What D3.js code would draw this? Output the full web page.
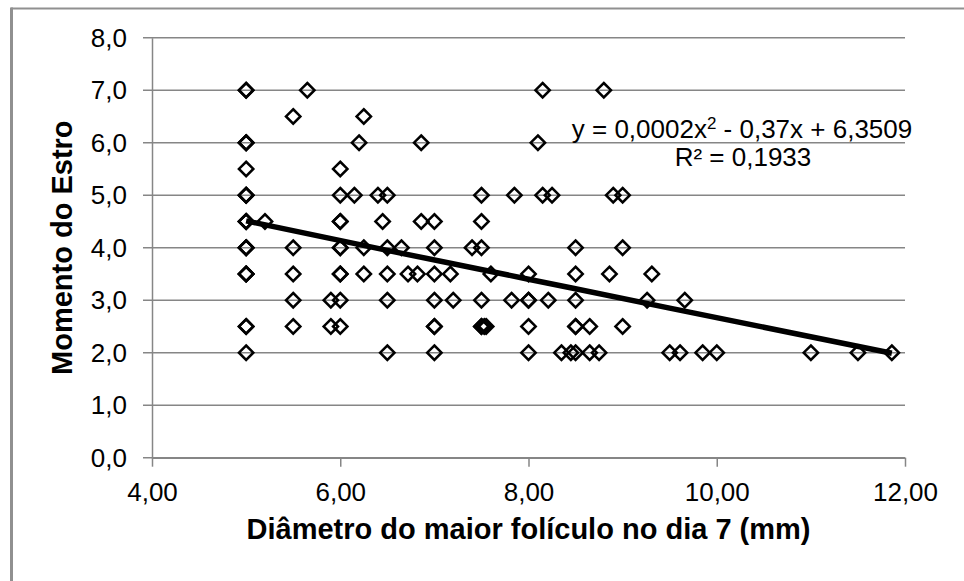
<!DOCTYPE html>
<html>
<head>
<meta charset="utf-8">
<script src="https://cdn.jsdelivr.net/npm/d3@7"></script>
<style>
  body { margin: 0; background: #fff; }
  svg { display: block; font-family: "Liberation Sans", Arial, sans-serif; }
</style>
</head>
<body>
<div id="chart"></div>
<script>
// Data: diameter (mm) and oestrus moment
const diametro = [
  5.0, 5.0, 5.0, 5.0, 5.0, 5.0, 5.0, 5.0, 5.0, 5.0, 5.0, 5.0, 5.0, 5.0, 5.0, 5.0, 5.0, 5.0, 5.0, 5.0, 5.0,
  5.2,
  5.5, 5.5, 5.5, 5.5, 5.5,
  5.65,
  5.9, 5.9,
  6.0, 6.0, 6.0, 6.0, 6.0, 6.0, 6.0, 6.0, 6.0, 6.0,
  6.15, 6.2, 6.25, 6.25, 6.25, 6.4, 6.45,
  6.5, 6.5, 6.5, 6.5, 6.5,
  6.65, 6.72, 6.82, 6.86, 6.86,
  7.0, 7.0, 7.0, 7.0, 7.0, 7.0, 7.0,
  7.17, 7.2, 7.4,
  7.5, 7.5, 7.5, 7.5, 7.5, 7.5, 7.53, 7.55, 7.6,
  7.82, 7.85,
  8.0, 8.0, 8.0, 8.0, 8.0,
  8.1, 8.15, 8.15, 8.21, 8.25, 8.35, 8.45,
  8.5, 8.5, 8.5, 8.5, 8.5, 8.5,
  8.65, 8.65, 8.75, 8.8, 8.86, 8.9,
  9.0, 9.0, 9.0,
  9.26, 9.31, 9.5, 9.61, 9.66, 9.85, 10.0, 11.0, 11.5, 11.86
];
const estro = [
  7, 7, 6, 6, 6, 5.5, 5, 5, 5, 4.5, 4.5, 4.5, 4, 4, 4, 3.5, 3.5, 3.5, 2.5, 2.5, 2,
  4.5,
  6.5, 4, 3.5, 3, 2.5,
  7,
  3, 2.5,
  5.5, 5, 4.5, 4.5, 4, 4, 3.5, 3.5, 3, 2.5,
  5, 6, 6.5, 4, 3.5, 5, 4.5,
  5, 4, 3.5, 3, 2,
  4, 3.5, 3.5, 6, 4.5,
  4.5, 4, 3.5, 3, 2.5, 2.5, 2,
  3.5, 3, 4,
  5, 4.5, 4, 3, 2.5, 2.5, 2.5, 2.5, 3.5,
  3, 5,
  3.5, 3, 3, 2.5, 2,
  6, 7, 5, 3, 5, 2, 2,
  4, 3.5, 3, 2.5, 2.5, 2,
  2.5, 2, 2, 7, 3.5, 5,
  5, 4, 2.5,
  3, 3.5, 2, 2, 3, 2, 2, 2, 2, 2
];

// Polynomial trend line
const trendX = [5.0, 6.5, 8.0, 9.5, 11.86];
const trendY = [4.51, 3.95, 3.40, 2.85, 1.99];

const xTicks = [4, 6, 8, 10, 12];
const yTicks = [0, 1, 2, 3, 4, 5, 6, 7, 8];

const eqText = "y = 0,0002x";
const eqRest = " - 0,37x + 6,3509";
const r2Text = "R² = 0,1933";
const xTitle = "Diâmetro do maior folículo no dia 7 (mm)";
const yTitle = "Momento do Estro";

const W = 964, H = 581;
const plotLeft = 152, plotRight = 905, plotTop = 37.7, plotBottom = 457.7;
const gridColor = "#868686";

const svg = d3.select("#chart").append("svg")
  .attr("width", W)
  .attr("height", H);

svg.append("rect").attr("width", W).attr("height", H).attr("fill", "#fff");

// chart frame (only top and left visible)
svg.append("line").attr("x1", 11).attr("x2", W).attr("y1", 8.5).attr("y2", 8.5)
  .attr("stroke", "#909090").attr("stroke-width", 2);
svg.append("line").attr("x1", 11.5).attr("x2", 11.5).attr("y1", 7.5).attr("y2", H)
  .attr("stroke", "#909090").attr("stroke-width", 3);

const x = d3.scaleLinear().domain([4, 12]).range([plotLeft, plotRight]);
const y = d3.scaleLinear().domain([0, 8]).range([plotBottom, plotTop]);

// horizontal gridlines (with small outer tick on the left)
svg.append("g")
  .selectAll("line")
  .data(yTicks)
  .join("line")
  .attr("x1", plotLeft - 9)
  .attr("x2", plotRight)
  .attr("y1", d => y(d))
  .attr("y2", d => y(d))
  .attr("stroke", gridColor)
  .attr("stroke-width", 1.5);

// y axis
const yAxis = svg.append("g")
  .attr("transform", `translate(${plotLeft},0)`)
  .call(d3.axisLeft(y).tickValues(yTicks).tickSize(0).tickPadding(25)
    .tickFormat(d => d3.format(".1f")(d).replace(".", ",")));
yAxis.select(".domain").attr("stroke", gridColor).attr("stroke-width", 1.5);
yAxis.selectAll("text").attr("font-size", 26).attr("fill", "#000")
  .attr("font-family", "'Liberation Sans', Arial, sans-serif");

// x axis
const xAxis = svg.append("g")
  .attr("transform", `translate(0,${plotBottom})`)
  .call(d3.axisBottom(x).tickValues(xTicks).tickSizeInner(9).tickSizeOuter(0).tickPadding(16)
    .tickFormat(d => d3.format(".2f")(d).replace(".", ",")));
xAxis.select(".domain").attr("stroke", gridColor).attr("stroke-width", 1.5);
xAxis.selectAll(".tick line").attr("stroke", gridColor).attr("stroke-width", 1.5);
xAxis.selectAll("text").attr("font-size", 26).attr("fill", "#000")
  .attr("font-family", "'Liberation Sans', Arial, sans-serif");

// scatter markers: hollow diamonds
const r = 7.2;
const diamond = `M0,${-r}L${r},0L0,${r}L${-r},0Z`;
svg.append("g")
  .selectAll("path")
  .data(d3.range(diametro.length))
  .join("path")
  .attr("d", diamond)
  .attr("transform", i => `translate(${x(diametro[i])},${y(estro[i])})`)
  .attr("fill", "none")
  .attr("stroke", "#000")
  .attr("stroke-width", 2.5);

// trend line
svg.append("path")
  .datum(d3.range(trendX.length))
  .attr("d", d3.line().x(i => x(trendX[i])).y(i => y(trendY[i])).curve(d3.curveMonotoneX))
  .attr("fill", "none")
  .attr("stroke", "#000")
  .attr("stroke-width", 5.5);

// equation labels
const eq = svg.append("text")
  .attr("x", 742).attr("y", 138)
  .attr("text-anchor", "middle")
  .attr("font-size", 26)
  .attr("fill", "#000");
eq.append("tspan").text(eqText);
eq.append("tspan").attr("font-size", 17).attr("dy", -9).text("2");
eq.append("tspan").attr("dy", 9).text(eqRest);

svg.append("text")
  .attr("x", 743).attr("y", 166)
  .attr("text-anchor", "middle")
  .attr("font-size", 26)
  .attr("fill", "#000")
  .text(r2Text);

// axis titles
svg.append("text")
  .attr("x", (plotLeft + plotRight) / 2).attr("y", 539)
  .attr("text-anchor", "middle")
  .attr("font-size", 29)
  .attr("font-weight", "bold")
  .attr("fill", "#000")
  .text(xTitle);

svg.append("text")
  .attr("transform", `translate(72,${(plotTop + plotBottom) / 2}) rotate(-90)`)
  .attr("text-anchor", "middle")
  .attr("font-size", 29)
  .attr("font-weight", "bold")
  .attr("fill", "#000")
  .text(yTitle);
</script>
</body>
</html>
